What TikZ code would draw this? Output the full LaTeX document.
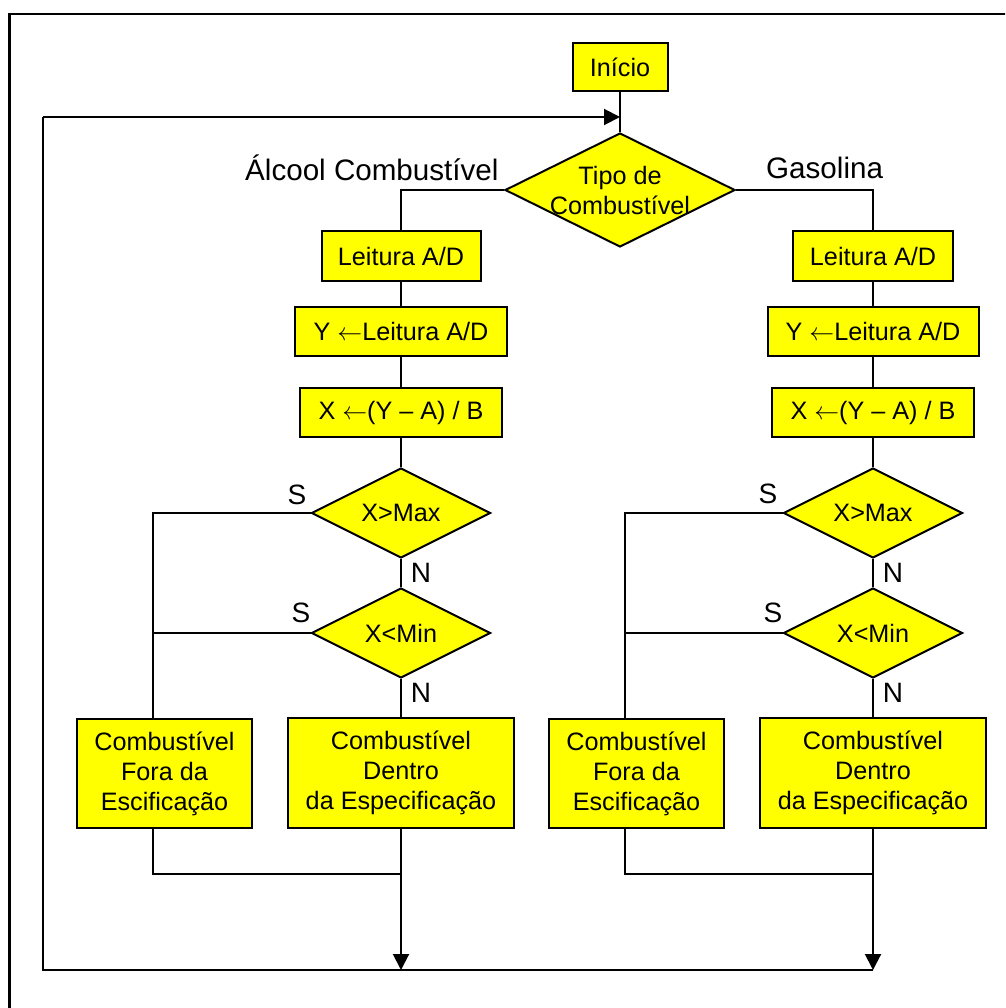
\documentclass[tikz,border=0pt]{standalone}
\usepackage{fontspec}
\setmainfont{Liberation Sans}
\usetikzlibrary{shapes.geometric,arrows.meta}
\definecolor{boxyellow}{RGB}{255,255,0}
\tikzset{
  box/.style={draw=black, fill=boxyellow, line width=2pt, inner sep=0pt, align=center, font=\fontsize{25.2}{30}\selectfont},
  dec/.style={draw=black, fill=boxyellow, line width=2pt, diamond, inner sep=0pt, shape aspect=2},
  dectext/.style={align=center, font=\fontsize{25.2}{30}\selectfont},
  conn/.style={line width=2pt, black},
  arr/.style={line width=2pt, black, -{Triangle[length=16pt,width=16pt]}},
  lab/.style={font=\fontsize{29.6}{34}\selectfont, inner sep=0pt},
  yn/.style={font=\fontsize{28}{32}\selectfont, inner sep=0pt},
}
\begin{document}
\begin{tikzpicture}[x=1pt,y=-1pt]
\useasboundingbox (0,0) rectangle (1005,1008);
\clip (0,0) rectangle (1005,1008);
\fill[white] (0,0) rectangle (1005,1008);
% outer frame
\draw[line width=2.2pt] (9.5,14.3) rectangle (1030,1030);

% start and type decision
\node[box, minimum width=95pt, minimum height=48pt] (inicio) at (620,67) {Início};
\node[dec, minimum width=230pt, minimum height=114pt,
      label={[dectext]center:Tipo de\\Combustível}] (tipo) at (620,190) {};

% left column (alcohol)
\node[box, minimum width=159pt, minimum height=49pt] (leitL) at (401,256) {Leitura A/D};
\node[box, minimum width=212pt, minimum height=49pt] (yL) at (401,331.5) {Y $\leftarrow$Leitura A/D};
\node[box, minimum width=202pt, minimum height=49pt] (xL) at (401,412.5) {X $\leftarrow$(Y – A) / B};
\node[dec, minimum width=179pt, minimum height=90pt, label={[dectext]center:X>Max}] (maxL) at (401,513) {};
\node[dec, minimum width=179pt, minimum height=90pt, label={[dectext]center:X<Min}] (minL) at (401,633) {};
\node[box, minimum width=175pt, minimum height=109pt] (foraL) at (164.5,773.5) {Combustível\\Fora da\\Escificação};
\node[box, minimum width=226pt, minimum height=110pt] (dentroL) at (401,773) {Combustível\\Dentro\\da Especificação};

% right column (gasoline)
\node[box, minimum width=160pt, minimum height=49pt] (leitR) at (873,256) {Leitura A/D};
\node[box, minimum width=211pt, minimum height=49pt] (yR) at (873,331.5) {Y $\leftarrow$Leitura A/D};
\node[box, minimum width=202pt, minimum height=49pt] (xR) at (873,412.5) {X $\leftarrow$(Y – A) / B};
\node[dec, minimum width=179pt, minimum height=90pt, label={[dectext]center:X>Max}] (maxR) at (873,513) {};
\node[dec, minimum width=179pt, minimum height=90pt, label={[dectext]center:X<Min}] (minR) at (873,633) {};
\node[box, minimum width=175pt, minimum height=109pt] (foraR) at (636.5,773.5) {Combustível\\Fora da\\Escificação};
\node[box, minimum width=226pt, minimum height=110pt] (dentroR) at (873,773) {Combustível\\Dentro\\da Especificação};

% branch labels
\node[lab, anchor=base west] (alc) at (245,181) {Álcool Combustível};
\node[lab, anchor=base west] (gas) at (766,179) {Gasolina};
\node[yn] (sL1) at (297,495) {S};
\node[yn] (sL2) at (301,613) {S};
\node[yn] (nL1) at (421,573) {N};
\node[yn] (nL2) at (421,693) {N};
\node[yn] (sR1) at (768,494) {S};
\node[yn] (sR2) at (773,613) {S};
\node[yn] (nR1) at (893,573) {N};
\node[yn] (nR2) at (893,693) {N};

% helper coordinates
\coordinate (foraLtop) at ([xshift=-11.5pt]foraL.north);
\coordinate (foraLbot) at ([xshift=-11.5pt]foraL.south);
\coordinate (foraRtop) at ([xshift=-11.5pt]foraR.north);
\coordinate (foraRbot) at ([xshift=-11.5pt]foraR.south);
\coordinate (botL) at (401,970);
\coordinate (botR) at (873,970);
\coordinate (cornerB) at (43,970);
\coordinate (cornerT) at (43,117);
\coordinate (entry) at (620,117);

% connectors
\draw[conn] (inicio) -- (tipo);
\draw[conn] (tipo.west) -| (leitL.north);
\draw[conn] (tipo.east) -| (leitR.north);

\draw[conn] (leitL) -- (yL);
\draw[conn] (yL) -- (xL);
\draw[conn] (xL) -- (maxL);
\draw[conn] (maxL) -- (minL);
\draw[conn] (minL) -- (dentroL);
\draw[conn] (maxL.west) -| (foraLtop);
\draw[conn] (minL.west) -- (minL.west -| foraLtop);
\draw[conn] (foraLbot) |- (dentroL.south |- 0,874);
\draw[arr] (dentroL) -- (botL);

\draw[conn] (leitR) -- (yR);
\draw[conn] (yR) -- (xR);
\draw[conn] (xR) -- (maxR);
\draw[conn] (maxR) -- (minR);
\draw[conn] (minR) -- (dentroR);
\draw[conn] (maxR.west) -| (foraRtop);
\draw[conn] (minR.west) -- (minR.west -| foraRtop);
\draw[conn] (foraRbot) |- (dentroR.south |- 0,874);
\draw[arr] (dentroR) -- (botR);

\draw[conn] (botR) -- (cornerB) -- (cornerT);
\draw[arr] (cornerT) -- (entry);
\end{tikzpicture}
\end{document}
